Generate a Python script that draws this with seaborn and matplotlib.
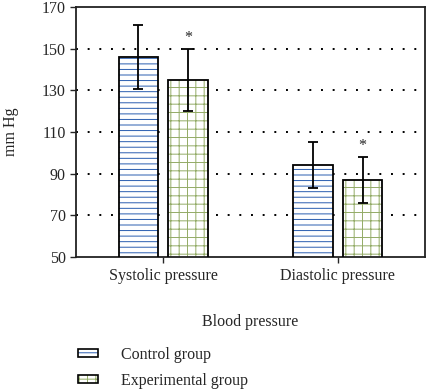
import numpy as np
import pandas as pd
import matplotlib
matplotlib.use("Agg")
import matplotlib.pyplot as plt
import seaborn as sns
from matplotlib.patches import Rectangle, Patch
from matplotlib.legend_handler import HandlerBase

categories = ["Systolic pressure", "Diastolic pressure"]
groups = ["Control group", "Experimental group"]
control_mean = [146, 94]
control_err = [15.5, 11]
exp_mean = [135, 87]
exp_err = [15, 11]

hatch_colors = {"Control group": "#2a5db0", "Experimental group": "#93ab66"}
hatches = {"Control group": "---", "Experimental group": "++"}

df = pd.DataFrame({
    "pressure": categories * 2,
    "group": [groups[0]] * 2 + [groups[1]] * 2,
    "value": control_mean + exp_mean,
    "err": control_err + exp_err,
})


class HatchBox(HandlerBase):
    # hatched fill in the group colour with a black outline on top
    def create_artists(self, legend, orig_handle, xdescent, ydescent,
                       width, height, fontsize, trans):
        fill = Rectangle((-xdescent, -ydescent), width, height, facecolor="white",
                         edgecolor=orig_handle.get_edgecolor(),
                         hatch=orig_handle.get_hatch(), linewidth=0, transform=trans)
        edge = Rectangle((-xdescent, -ydescent), width, height, fill=False,
                         edgecolor="black", linewidth=1.2, transform=trans)
        return [fill, edge]


sns.set_style("ticks")
plt.rcParams["font.family"] = ["Liberation Serif", "DejaVu Serif"]
plt.rcParams["hatch.linewidth"] = 0.7

fig = plt.figure(figsize=(4.3, 3.89), dpi=100)
ax = fig.add_axes([0.177, 0.339, 0.811, 0.643])

sns.barplot(data=df, x="pressure", y="value", hue="group", order=categories,
            hue_order=groups, width=0.57, gap=0.2, errorbar=None,
            palette=["white", "white"], legend=False, ax=ax, zorder=2)

# bars come in hue order: control bars first, then experimental
bars = ax.patches[:4]
for i, p in enumerate(bars):
    g = groups[i // 2]
    p.set_facecolor("white")
    p.set_hatch(hatches[g])
    p.set_edgecolor(hatch_colors[g])
    p.set_linewidth(0)
    ax.add_patch(Rectangle((p.get_x(), p.get_y()), p.get_width(), p.get_height(),
                           fill=False, edgecolor="black", linewidth=1.3, zorder=3))
    row = df[(df["group"] == g) & (df["pressure"] == categories[i % 2])].iloc[0]
    xc = p.get_x() + p.get_width() / 2
    ax.errorbar(xc, row["value"], yerr=row["err"], color="black", elinewidth=1.3,
                capsize=3.5, capthick=1.3, zorder=4)
    if g == "Experimental group":
        ax.text(xc, row["value"] + row["err"] + 1.5, "*", ha="center", va="bottom",
                fontsize=11.5, zorder=4)

ax.set_ylim(50, 170)
ax.set_xlim(-0.5, 1.5)
ax.set_yticks(np.arange(50, 171, 20))
for y in [70, 90, 110, 130, 150]:
    ax.axhline(y, color="black", linestyle=(0, (1, 5)), linewidth=1.4, zorder=1)

for s in ax.spines.values():
    s.set_linewidth(1.3)
    s.set_color("#222222")
ax.tick_params(axis="both", labelsize=11.5, width=1.0, length=4, direction="out")
ax.set_xlabel("Blood pressure", fontsize=11.5, labelpad=22)
ax.set_ylabel("mm Hg", fontsize=11.5, labelpad=16)

handles = [Patch(facecolor="white", edgecolor=hatch_colors[g], hatch=hatches[g])
           for g in groups]
fig.legend(handles, groups, loc="upper left", bbox_to_anchor=(0.147, 0.145),
           frameon=False, fontsize=11.5, handlelength=1.25, handleheight=0.4,
           handletextpad=1.45, labelspacing=0.6,
           handler_map={Patch: HatchBox()})

fig.savefig("out.png", dpi=100)
